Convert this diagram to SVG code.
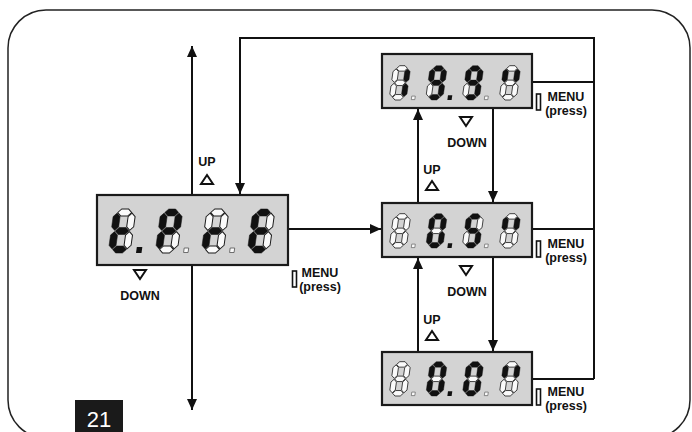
<svg xmlns="http://www.w3.org/2000/svg" xmlns:xlink="http://www.w3.org/1999/xlink" width="692" height="432" viewBox="0 0 692 432">
<style>
.on{fill:#111;stroke:#111;stroke-width:0.5}
.off{fill:#fafafa;stroke:#1a1a1a;stroke-width:1}
.dp{fill:#111}
.dpo{fill:#fafafa;stroke:#555;stroke-width:0.8}
.disp{fill:#d3d3d3;stroke:#1a1a1a;stroke-width:2.2}
.ln{fill:none;stroke:#111;stroke-width:2}
.lbl{font-family:"Liberation Sans",Arial,sans-serif;font-weight:bold;font-size:12.5px;fill:#111;text-anchor:middle}
.tri{fill:#fff;stroke:#111;stroke-width:2;stroke-linejoin:miter}
.btn{fill:#fff;stroke:#111;stroke-width:1.6}
</style>
<defs>
<path id="sa" d="M4.1,-40.5 L7.6,-44 L14.4,-44 L17.9,-40.5 L14.4,-37 L7.6,-37 Z"/>
<path id="sg" d="M4.1,-22 L7.6,-25.5 L14.4,-25.5 L17.9,-22 L14.4,-18.5 L7.6,-18.5 Z"/>
<path id="sd" d="M4.1,-3.5 L7.6,-7 L14.4,-7 L17.9,-3.5 L14.4,0 L7.6,0 Z"/>
<path id="sf" d="M3.5,-39.9 L7,-36.4 L7,-26.1 L3.5,-22.6 L0,-26.1 L0,-36.4 Z"/>
<path id="sb" d="M18.5,-39.9 L22,-36.4 L22,-26.1 L18.5,-22.6 L15,-26.1 L15,-36.4 Z"/>
<path id="se" d="M3.5,-21.4 L7,-17.9 L7,-7.6 L3.5,-4.1 L0,-7.6 L0,-17.9 Z"/>
<path id="sc" d="M18.5,-21.4 L22,-17.9 L22,-7.6 L18.5,-4.1 L15,-7.6 L15,-17.9 Z"/>
<marker id="ah" markerUnits="userSpaceOnUse" markerWidth="11" markerHeight="10" refX="11" refY="5" orient="auto-start-reverse" viewBox="0 0 11 10">
<path d="M0,0 L11,5 L0,10 Z" fill="#111"/>
</marker>
</defs>

<rect x="8" y="10" width="682" height="428" rx="38" ry="38" fill="none" stroke="#222" stroke-width="1.5"/>

<g id="connectors">
<line class="ln" x1="192" y1="46" x2="192" y2="410" marker-start="url(#ah)" marker-end="url(#ah)"/>
<polyline class="ln" points="594,379 594,38 240,38 240,194" marker-end="url(#ah)"/>
<line class="ln" x1="532" y1="82" x2="594" y2="82"/>
<line class="ln" x1="532" y1="229" x2="594" y2="229"/>
<line class="ln" x1="532" y1="379" x2="594" y2="379"/>
<line class="ln" x1="288" y1="229" x2="381" y2="229" marker-end="url(#ah)"/>
<line class="ln" x1="418" y1="203" x2="418" y2="109" marker-end="url(#ah)"/>
<line class="ln" x1="493" y1="108" x2="493" y2="202" marker-end="url(#ah)"/>
<line class="ln" x1="418" y1="352" x2="418" y2="258" marker-end="url(#ah)"/>
<line class="ln" x1="493" y1="257" x2="493" y2="351" marker-end="url(#ah)"/>
</g>

<g id="display-tpre">
<rect class="disp" x="97" y="195" width="191" height="70"/>
<g transform="translate(108,253) skewX(-8)">
<use href="#sa" class="off"/><use href="#sb" class="off"/><use href="#sc" class="off"/>
<use href="#sd" class="on"/><use href="#se" class="on"/><use href="#sf" class="on"/><use href="#sg" class="on"/>
<rect class="dp" x="28" y="-6" width="5.5" height="6"/>
</g>
<g transform="translate(155,253) skewX(-8)">
<use href="#sc" class="off"/><use href="#sd" class="off"/>
<use href="#sa" class="on"/><use href="#sb" class="on"/><use href="#se" class="on"/><use href="#sf" class="on"/><use href="#sg" class="on"/>
<rect class="dpo" x="28.5" y="-5" width="4.5" height="4.5"/>
</g>
<g transform="translate(201,253) skewX(-8)">
<use href="#sa" class="off"/><use href="#sb" class="off"/><use href="#sc" class="off"/><use href="#sd" class="off"/><use href="#sf" class="off"/>
<use href="#se" class="on"/><use href="#sg" class="on"/>
<rect class="dpo" x="28.5" y="-5" width="4.5" height="4.5"/>
</g>
<g transform="translate(247,253) skewX(-8)">
<use href="#sb" class="off"/><use href="#sc" class="off"/>
<use href="#sa" class="on"/><use href="#sd" class="on"/><use href="#se" class="on"/><use href="#sf" class="on"/><use href="#sg" class="on"/>
</g>
<text class="lbl" x="207" y="166">UP</text>
<polygon class="tri" points="207,175 213,184 201,184"/>
<polygon class="tri" points="134,270 146,270 140,279"/>
<text class="lbl" x="140" y="300">DOWN</text>
<rect class="btn" x="292.5" y="271" width="4" height="16"/>
<text class="lbl" x="320" y="277">MENU</text>
<text class="lbl" x="320" y="291">(press)</text>
</g>

<g id="display-1991">
<rect class="disp" x="382" y="54" width="150" height="54"/>
<g transform="translate(389,100) scale(0.78) skewX(-8)">
<use href="#sa" class="off"/><use href="#sd" class="off"/><use href="#se" class="off"/><use href="#sf" class="off"/><use href="#sg" class="off"/>
<use href="#sb" class="on"/><use href="#sc" class="on"/>
<rect class="dpo" x="28.5" y="-5" width="4.5" height="4.5"/>
</g>
<g transform="translate(425.5,100) scale(0.78) skewX(-8)">
<use href="#se" class="off"/>
<use href="#sa" class="on"/><use href="#sb" class="on"/><use href="#sc" class="on"/><use href="#sd" class="on"/><use href="#sf" class="on"/><use href="#sg" class="on"/>
<rect class="dp" x="28" y="-6" width="5.5" height="6"/>
</g>
<g transform="translate(462,100) scale(0.78) skewX(-8)">
<use href="#se" class="off"/>
<use href="#sa" class="on"/><use href="#sb" class="on"/><use href="#sc" class="on"/><use href="#sd" class="on"/><use href="#sf" class="on"/><use href="#sg" class="on"/>
<rect class="dpo" x="28.5" y="-5" width="4.5" height="4.5"/>
</g>
<g transform="translate(499,100) scale(0.78) skewX(-8)">
<use href="#sa" class="off"/><use href="#sc" class="off"/><use href="#sd" class="off"/><use href="#se" class="off"/><use href="#sg" class="off"/>
<use href="#sb" class="on"/><use href="#sf" class="on"/>
</g>
<polygon class="tri" points="460,117 472,117 466,126"/>
<text class="lbl" x="467" y="147">DOWN</text>
<rect class="btn" x="536.5" y="94" width="4" height="16"/>
<text class="lbl" x="566" y="101">MENU</text>
<text class="lbl" x="566" y="115">(press)</text>
</g>

<g id="display-0s">
<rect class="disp" x="382" y="203" width="150" height="54"/>
<g transform="translate(389,248) scale(0.78) skewX(-8)">
<use href="#sa" class="off"/><use href="#sb" class="off"/><use href="#sc" class="off"/><use href="#sd" class="off"/><use href="#se" class="off"/><use href="#sf" class="off"/><use href="#sg" class="off"/>
<rect class="dpo" x="28.5" y="-5" width="4.5" height="4.5"/>
</g>
<g transform="translate(425.5,248) scale(0.78) skewX(-8)">
<use href="#sg" class="off"/>
<use href="#sa" class="on"/><use href="#sb" class="on"/><use href="#sc" class="on"/><use href="#sd" class="on"/><use href="#se" class="on"/><use href="#sf" class="on"/>
<rect class="dp" x="28" y="-6" width="5.5" height="6"/>
</g>
<g transform="translate(462,248) scale(0.78) skewX(-8)">
<use href="#sb" class="off"/><use href="#se" class="off"/>
<use href="#sa" class="on"/><use href="#sc" class="on"/><use href="#sd" class="on"/><use href="#sf" class="on"/><use href="#sg" class="on"/>
<rect class="dpo" x="28.5" y="-5" width="4.5" height="4.5"/>
</g>
<g transform="translate(499,248) scale(0.78) skewX(-8)">
<use href="#sa" class="off"/><use href="#sc" class="off"/><use href="#sd" class="off"/><use href="#se" class="off"/><use href="#sg" class="off"/>
<use href="#sb" class="on"/><use href="#sf" class="on"/>
</g>
<text class="lbl" x="432" y="174">UP</text>
<polygon class="tri" points="432,181 438,190 426,190"/>
<polygon class="tri" points="460,266 472,266 466,275"/>
<text class="lbl" x="467" y="296">DOWN</text>
<rect class="btn" x="536.5" y="241" width="4" height="16"/>
<text class="lbl" x="566" y="248">MENU</text>
<text class="lbl" x="566" y="262">(press)</text>
</g>

<g id="display-00">
<rect class="disp" x="382" y="352" width="150" height="53"/>
<g transform="translate(389,396) scale(0.78) skewX(-8)">
<use href="#sa" class="off"/><use href="#sb" class="off"/><use href="#sc" class="off"/><use href="#sd" class="off"/><use href="#se" class="off"/><use href="#sf" class="off"/><use href="#sg" class="off"/>
<rect class="dpo" x="28.5" y="-5" width="4.5" height="4.5"/>
</g>
<g transform="translate(425.5,396) scale(0.78) skewX(-8)">
<use href="#sg" class="off"/>
<use href="#sa" class="on"/><use href="#sb" class="on"/><use href="#sc" class="on"/><use href="#sd" class="on"/><use href="#se" class="on"/><use href="#sf" class="on"/>
<rect class="dp" x="28" y="-6" width="5.5" height="6"/>
</g>
<g transform="translate(462,396) scale(0.78) skewX(-8)">
<use href="#sg" class="off"/>
<use href="#sa" class="on"/><use href="#sb" class="on"/><use href="#sc" class="on"/><use href="#sd" class="on"/><use href="#se" class="on"/><use href="#sf" class="on"/>
<rect class="dpo" x="28.5" y="-5" width="4.5" height="4.5"/>
</g>
<g transform="translate(499,396) scale(0.78) skewX(-8)">
<use href="#sa" class="off"/><use href="#sc" class="off"/><use href="#sd" class="off"/><use href="#se" class="off"/><use href="#sg" class="off"/>
<use href="#sb" class="on"/><use href="#sf" class="on"/>
</g>
<text class="lbl" x="432" y="324">UP</text>
<polygon class="tri" points="432,331 438,340 426,340"/>
<rect class="btn" x="536.5" y="389" width="4" height="16"/>
<text class="lbl" x="566" y="396">MENU</text>
<text class="lbl" x="566" y="410">(press)</text>
</g>

<g id="figure-number">
<rect x="75" y="400" width="48" height="34" fill="#1a1a1a"/>
<text x="99" y="427" font-family="'Liberation Sans',Arial,sans-serif" font-size="22" fill="#fff" text-anchor="middle">21</text>
</g>
</svg>
